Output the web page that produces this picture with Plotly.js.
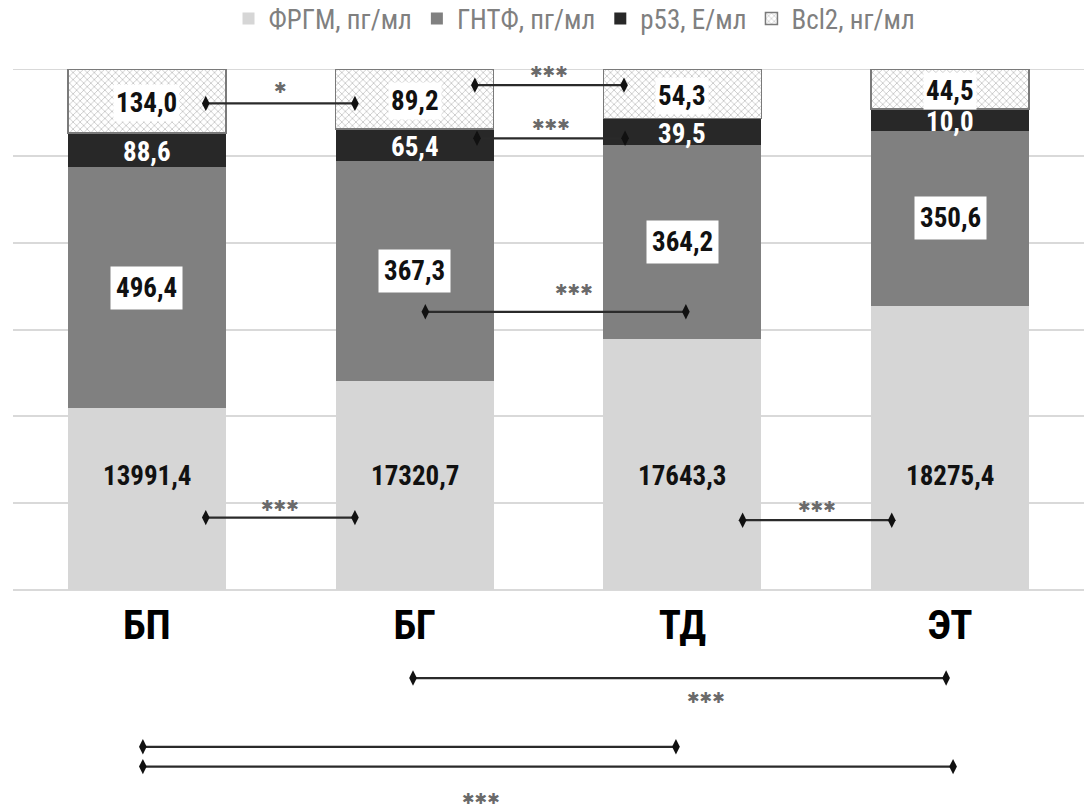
<!DOCTYPE html>
<html><head><meta charset="utf-8">
<script src="https://cdn.plot.ly/plotly-3.0.1.min.js"></script>
<style>html,body{margin:0;padding:0;background:#fff}</style>
</head><body><div id="chart" style="width:1084px;height:807px"></div>
<script>
// ---- data ----
const categories = ['БП', 'БГ', 'ТД', 'ЭТ'];
const seriesNames = ['ФРГМ, пг/мл', 'ГНТФ, пг/мл', 'p53, Е/мл', 'Bcl2, нг/мл'];
// reported values (data labels)
const frgmValues = [13991.4, 17320.7, 17643.3, 18275.4];
const gntfValues = [496.4, 367.3, 364.2, 350.6];
const p53Values  = [88.6, 65.4, 39.5, 10.0];
const bcl2Values = [134.0, 89.2, 54.3, 44.5];
// segment shares of each 100% column (%)
const frgmShare = [34.9, 40.2, 48.2, 54.6];
const gntfShare = [46.3, 42.2, 37.2, 33.5];
const p53Share  = [6.5, 6.1, 5.1, 4.2];
const bcl2Share = [12.3, 11.5, 9.5, 7.7];
// significance comparisons: category indices and marker
const compFrom  = [0, 1, 1, 1, 0, 2, 1, 0, 0];
const compTo    = [1, 2, 2, 2, 1, 3, 3, 2, 3];
const compMarks = ['*', '***', '***', '***', '***', '***', '***', '', '***'];

// ---- layout helpers (positions / styles) ----
const W = 1084, H = 807;
const plotTop = 69, plotBottom = 590, plotLeft = 13;
const yDomain = [(H - plotBottom) / H, (H - plotTop) / H];
const pxPerPct = (plotBottom - plotTop) / 100;
const extLow = -(H - plotBottom) / pxPerPct;
// bracket geometry (category offsets and heights, % units)
const compFromOff = [0.22, 0.225, 0.233, 0.04, 0.22, 0.225, -0.006, -0.015, -0.015];
const compToOff   = [-0.223, -0.218, -0.214, 0.013, -0.223, -0.218, -0.015, -0.024, 0.011];
const compY       = [93.4, 96.9, 86.7, 53.4, 13.9, 13.4, -16.9, -30.1, -33.9];
const compMarkDy  = [3.0, 2.6, 2.5, 4.2, 2.3, 2.6, -3.8, 0, -6.3];
const compMarkDx  = [0, 0, 0, 0.07, 0, 0, 0.1, 0, -0.25];

const fmt = v => v.toFixed(1).replace('.', ',');
const labelFont = 'Liberation Sans Narrow, Arial Narrow, Roboto Condensed, sans-serif';

const traces = [
  {type: 'bar', name: seriesNames[0], x: categories, y: frgmShare,
   marker: {color: '#d6d6d6', line: {width: 0}}, hoverinfo: 'skip'},
  {type: 'bar', name: seriesNames[1], x: categories, y: gntfShare,
   marker: {color: '#808080', line: {width: 0}}, hoverinfo: 'skip'},
  {type: 'bar', name: seriesNames[2], x: categories, y: p53Share,
   marker: {color: '#282828', line: {width: 0}}, hoverinfo: 'skip'},
  {type: 'bar', name: seriesNames[3], x: categories, y: bcl2Share,
   marker: {color: '#ffffff', line: {width: 1.5, color: '#7a7a7a'},
            pattern: {shape: 'x', fgcolor: '#c4c4c4', bgcolor: '#ffffff', size: 5, solidity: 0.3}},
   hoverinfo: 'skip'}
];

const annotations = [];
// data labels
categories.forEach((c, i) => {
  annotations.push({x: c, y: 21.9, xref: 'x', yref: 'y', text: '<b>' + fmt(frgmValues[i]) + '</b>',
    showarrow: false, font: {family: labelFont, size: 27, color: '#111'}});
  annotations.push({x: c, y: frgmShare[i] + gntfShare[i] / 2, xref: 'x', yref: 'y',
    text: '<b>' + fmt(gntfValues[i]) + '</b>', showarrow: false, bgcolor: '#ffffff', borderpad: 5,
    font: {family: labelFont, size: 27, color: '#111'}});
  annotations.push({x: c, y: frgmShare[i] + gntfShare[i] + p53Share[i] / 2 - 0.4, xref: 'x', yref: 'y',
    text: '<b>' + fmt(p53Values[i]) + '</b>', showarrow: false,
    font: {family: labelFont, size: 27, color: '#ffffff'}});
  annotations.push({x: c, y: frgmShare[i] + gntfShare[i] + p53Share[i] + bcl2Share[i] / 2 - 0.4, xref: 'x', yref: 'y',
    text: '<b>' + fmt(bcl2Values[i]) + '</b>', showarrow: false, bgcolor: '#ffffff', borderpad: 2,
    font: {family: labelFont, size: 27, color: '#111'}});
});

// significance brackets
compFrom.forEach((a, k) => {
  const x0 = a + compFromOff[k], x1 = compTo[k] + compToOff[k];
  traces.push({type: 'scatter', mode: 'lines+markers', xaxis: 'x2', yaxis: 'y2',
    x: [x0, x1], y: [compY[k], compY[k]], showlegend: false, hoverinfo: 'skip',
    line: {color: '#2a2a2a', width: 2.2},
    marker: {symbol: 'diamond-tall', size: 11, color: '#111'}});
  if (compMarks[k]) {
    annotations.push({x: (x0 + x1) / 2 + compMarkDx[k], y: compY[k] + compMarkDy[k], xref: 'x2', yref: 'y2',
      text: compMarks[k].replace(/\*/g, '✱'), showarrow: false,
      font: {family: 'DejaVu Sans, sans-serif', size: 15, color: '#6a6a6a'}});
  }
});

const layout = {
  width: W, height: H,
  margin: {l: 0, r: 0, t: 0, b: 0, autoexpand: false},
  paper_bgcolor: '#ffffff', plot_bgcolor: 'rgba(0,0,0,0)',
  barmode: 'stack', bargap: 0.41,
  showlegend: true,
  legend: {orientation: 'h', x: 0.53, xanchor: 'center', y: 1 - 19 / H, yanchor: 'middle',
    traceorder: 'normal', font: {family: labelFont, size: 27, color: '#808080'}, itemwidth: 30},
  xaxis: {domain: [plotLeft / W, 1], anchor: 'y', type: 'category', showgrid: false, zeroline: false,
    showline: false, ticks: '', ticklabelstandoff: 7, automargin: false,
    tickfont: {family: labelFont, size: 41, color: '#000', weight: 'bold'}, fixedrange: true},
  yaxis: {domain: yDomain, anchor: 'x', range: [0, 100], tick0: 0, dtick: 100 / 6, automargin: false,
    showticklabels: false, showgrid: true, gridcolor: '#d9d9d9', gridwidth: 2,
    zeroline: true, zerolinecolor: '#d9d9d9', zerolinewidth: 2, fixedrange: true},
  xaxis2: {domain: [plotLeft / W, 1], anchor: 'y2', range: [-0.5, 3.5], visible: false, fixedrange: true},
  yaxis2: {domain: [0, yDomain[1]], anchor: 'x2', range: [extLow, 100], visible: false, fixedrange: true},
  shapes: [{type: 'line', xref: 'paper', yref: 'y', x0: plotLeft / W, x1: 1, y0: 100, y1: 100,
    line: {color: '#d9d9d9', width: 2}, layer: 'below'}],
  annotations: annotations
};

Plotly.newPlot('chart', traces, layout, {displayModeBar: false, staticPlot: true});
</script>
</body></html>
